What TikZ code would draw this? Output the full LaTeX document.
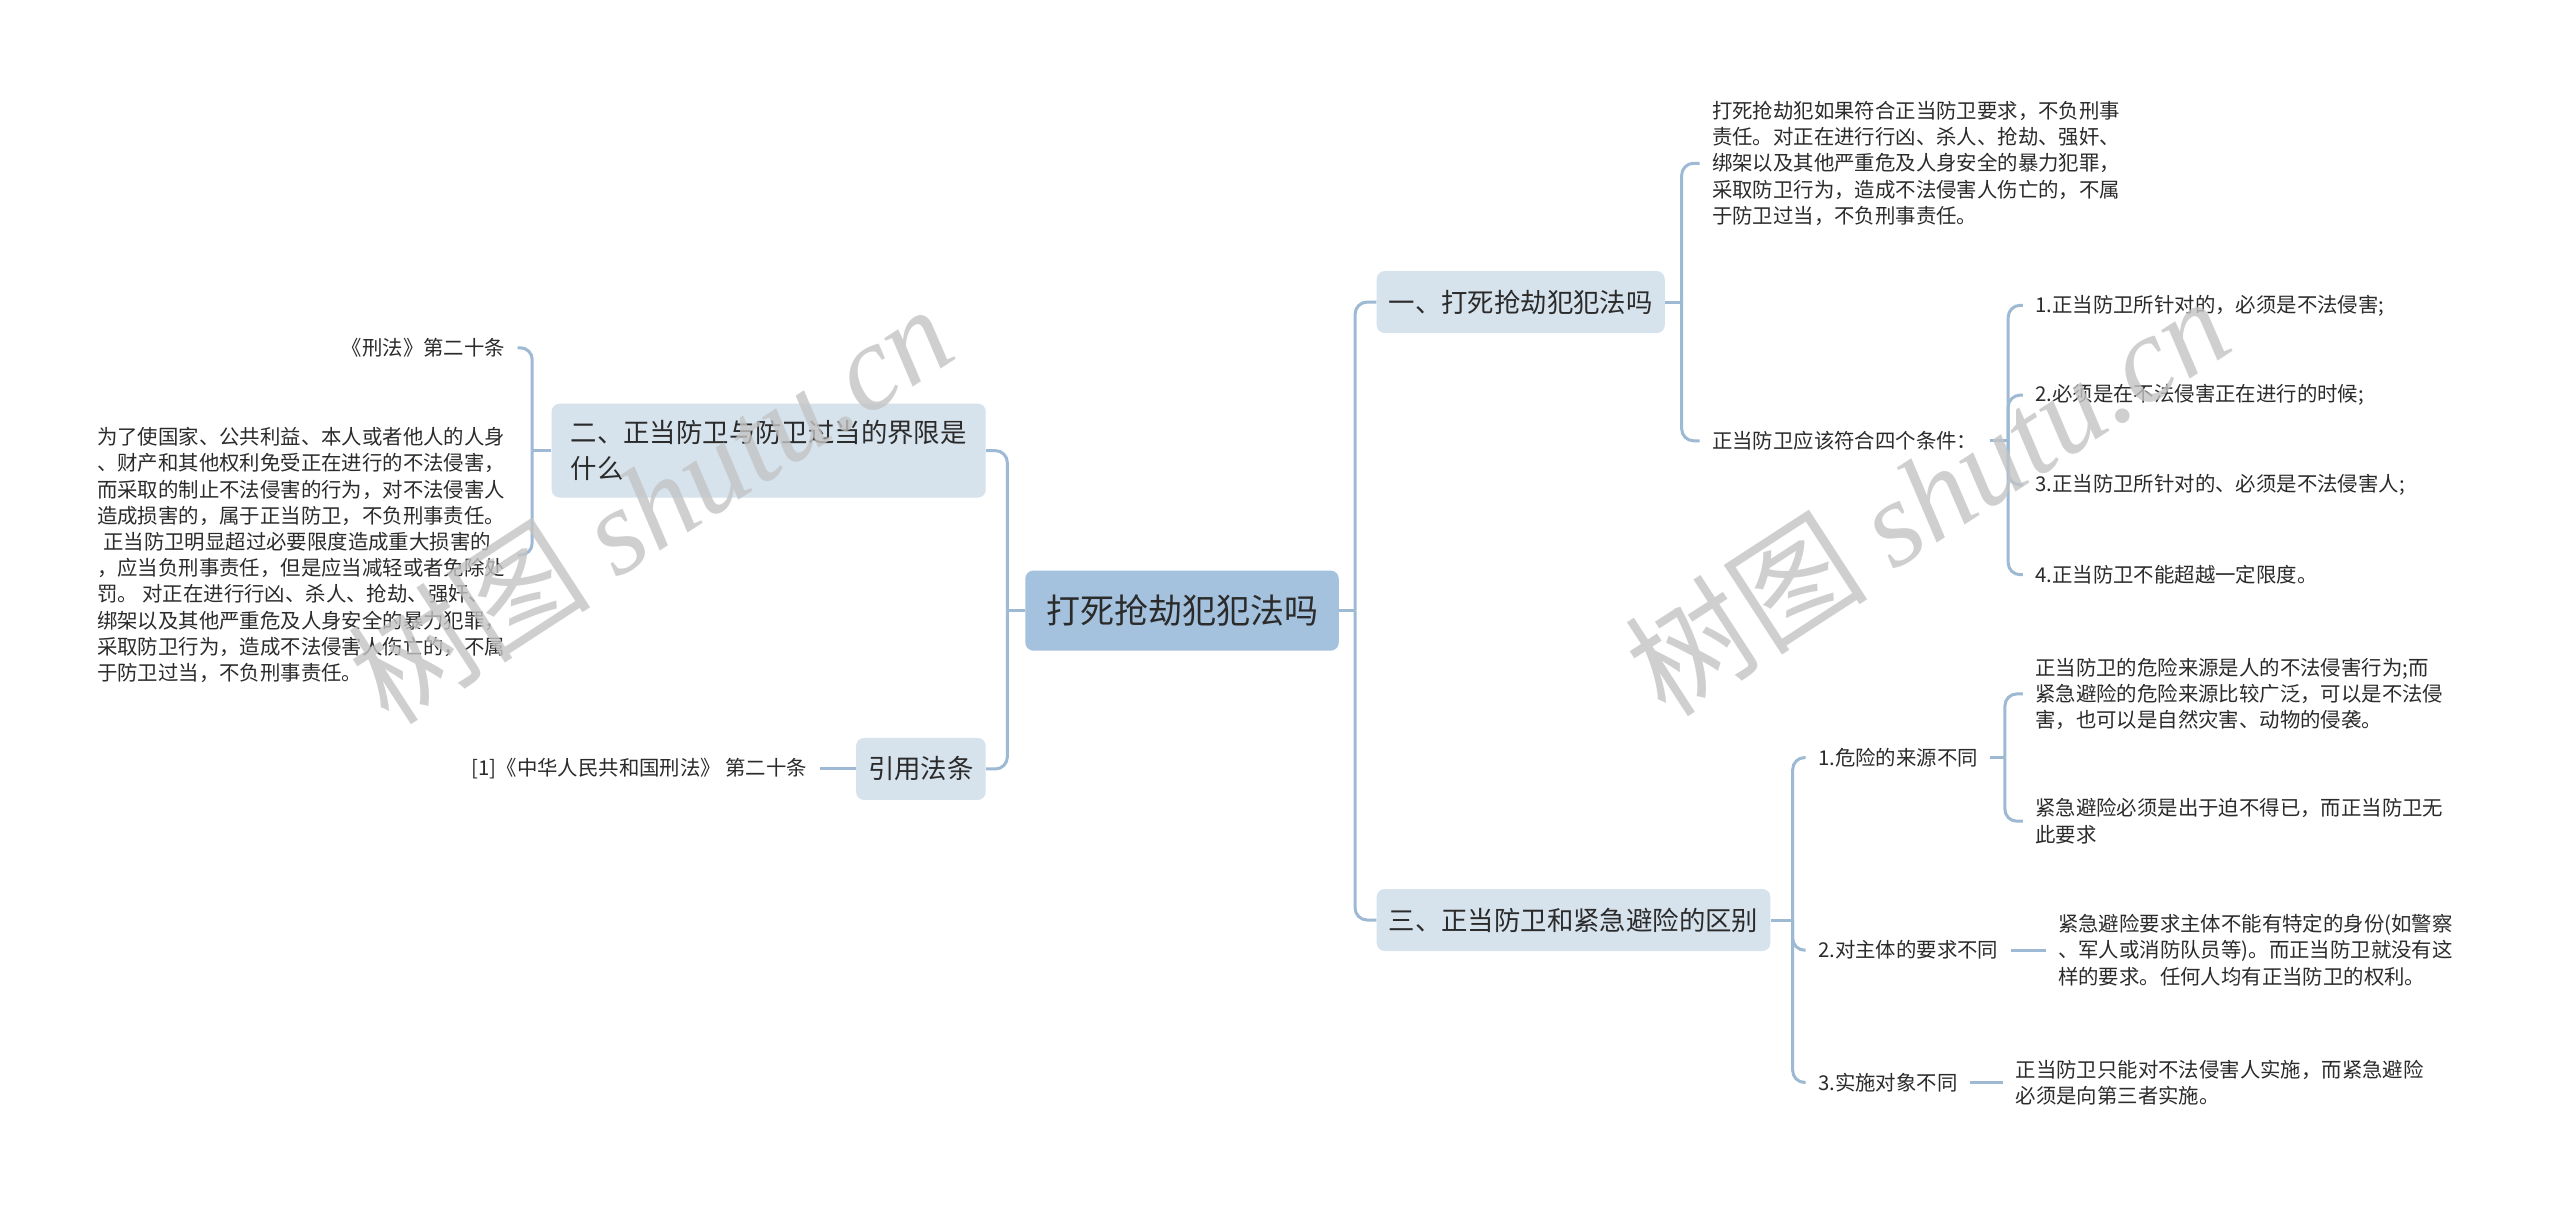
\documentclass[tikz,border=0pt]{standalone}
\usepackage{fontspec}
\setmainfont{Noto Sans CJK SC}
\newfontfamily\wmfont{Liberation Serif}
\usepackage{xcolor}
\usetikzlibrary{positioning}
\definecolor{rootblue}{HTML}{A4C1DD}
\definecolor{topicblue}{HTML}{D6E2EC}
\definecolor{linkblue}{HTML}{9DB9D3}
\definecolor{inkgray}{HTML}{2B2B2B}
\definecolor{markgray}{HTML}{C4C4C4}

\begin{document}
\begin{tikzpicture}[
    x=0.8163pt, y=-0.8163pt,
    root/.style={rectangle, rounded corners=4pt, fill=rootblue, minimum width=156.7pt, minimum height=40pt, font=\fontsize{17}{20}\selectfont, text=inkgray},
    topic/.style={rectangle, rounded corners=4pt, fill=topicblue, minimum height=31pt, inner xsep=6pt, align=left, font=\fontsize{13.2}{18}\selectfont, text=inkgray},
    leaf/.style={inner xsep=6pt, inner ysep=2pt, align=left, font=\fontsize{10.2}{13.1}\selectfont, text=inkgray},
    link/.style={draw=linkblue, line width=1.5pt},
    elbow/.style={link, rounded corners=6pt},
    wmark/.style={text=markgray, text opacity=0.8, font=\fontsize{61}{63}\selectfont, inner sep=0pt}
]
\fill[white] (0,0) rectangle (1568,738);
\useasboundingbox (0,0) rectangle (1568,738);

% Root
\node[root] (root) at (724,374) {打死抢劫犯犯法吗};

% Topics
\node[topic, anchor=west] (one) at (843,185) {一、打死抢劫犯犯法吗};
\node[topic, anchor=west] (three) at (843,563.5) {三、正当防卫和紧急避险的区别};
\node[topic, anchor=east, minimum width=217pt, minimum height=47pt] (two) at (604,276) {二、正当防卫与防卫过当的界限是\\什么};
\node[topic, anchor=east] (cite) at (604,471) {引用法条};

% Branch one
\node[leaf, anchor=west] (ans) at (1041,100) {打死抢劫犯如果符合正当防卫要求，不负刑事\\责任。对正在进行行凶、杀人、抢劫、强奸、\\绑架以及其他严重危及人身安全的暴力犯罪，\\采取防卫行为，造成不法侵害人伤亡的，不属\\于防卫过当，不负刑事责任。};
\node[leaf, anchor=west] (cond) at (1041,270) {正当防卫应该符合四个条件：};
\node[leaf, anchor=west] (c1) at (1239,187) {1.正当防卫所针对的，必须是不法侵害;};
\node[leaf, anchor=west] (c2) at (1239,242) {2.必须是在不法侵害正在进行的时候;};
\node[leaf, anchor=west] (c3) at (1239,297) {3.正当防卫所针对的、必须是不法侵害人;};
\node[leaf, anchor=west] (c4) at (1239,352) {4.正当防卫不能超越一定限度。};

% Branch three
\node[leaf, anchor=west] (d1) at (1106,464) {1.危险的来源不同};
\node[leaf, anchor=west] (d2) at (1106,582) {2.对主体的要求不同};
\node[leaf, anchor=west] (d3) at (1106,663) {3.实施对象不同};
\node[leaf, anchor=west] (e1) at (1239,425) {正当防卫的危险来源是人的不法侵害行为;而\\紧急避险的危险来源比较广泛，可以是不法侵\\害，也可以是自然灾害、动物的侵袭。};
\node[leaf, anchor=west] (e2) at (1239,503) {紧急避险必须是出于迫不得已，而正当防卫无\\此要求};
\node[leaf, anchor=west] (f) at (1253,582) {紧急避险要求主体不能有特定的身份(如警察\\、军人或消防队员等)。而正当防卫就没有这\\样的要求。任何人均有正当防卫的权利。};
\node[leaf, anchor=west] (g) at (1227,663) {正当防卫只能对不法侵害人实施，而紧急避险\\必须是向第三者实施。};

% Branch two
\node[leaf, anchor=east] (law) at (317,213) {《刑法》第二十条};
\node[leaf, anchor=east] (expl) at (317,340) {为了使国家、公共利益、本人或者他人的人身\\、财产和其他权利免受正在进行的不法侵害，\\而采取的制止不法侵害的行为，对不法侵害人\\造成损害的，属于正当防卫，不负刑事责任。\\\hspace*{0.3em}正当防卫明显超过必要限度造成重大损害的\\，应当负刑事责任，但是应当减轻或者免除处\\罚。 对正在进行行凶、杀人、抢劫、强奸、\\绑架以及其他严重危及人身安全的暴力犯罪，\\采取防卫行为，造成不法侵害人伤亡的，不属\\于防卫过当，不负刑事责任。};
\node[leaf, anchor=east] (ref) at (502,471) {[1]《中华人民共和国刑法》 第二十条};

% Connectors
\coordinate (rootR) at (830,374);
\coordinate (rootL) at (617,374);
\draw[link] (root.east) -- (rootR);
\draw[elbow] (rootR) |- (one.west);
\draw[elbow] (rootR) |- (three.west);
\draw[link] (root.west) -- (rootL);
\draw[elbow] (rootL) |- (two.east);
\draw[elbow] (rootL) |- (cite.east);

\coordinate (oneR) at (1030,185);
\draw[link] (one.east) -- (oneR);
\draw[elbow] (oneR) |- (ans.west);
\draw[elbow] (oneR) |- (cond.west);

\coordinate (condR) at (1230,270);
\draw[link] (cond.east) -- (condR);
\foreach \c in {c1,c2,c3,c4}
  \draw[elbow] (condR) |- (\c.west);

\coordinate (threeR) at (1098,563.5);
\draw[link] (three.east) -- (threeR);
\foreach \d in {d1,d2,d3}
  \draw[elbow] (threeR) |- (\d.west);

\coordinate (d1R) at (1228,464);
\draw[link] (d1.east) -- (d1R);
\draw[elbow] (d1R) |- (e1.west);
\draw[elbow] (d1R) |- (e2.west);
\draw[link] (d2.east) -- (f.west);
\draw[link] (d3.east) -- (g.west);

\coordinate (twoL) at (326,276);
\draw[link] (two.west) -- (twoL);
\draw[elbow] (twoL) |- (law.east);
\draw[elbow] (twoL) |- (expl.east);
\draw[link] (cite.west) -- (ref.east);

% Watermarks
\node[wmark, rotate=33] (wmL) at (398,308) {树图 {\wmfont\itshape shutu.cn}};
\node[wmark, rotate=33] (wmR) at (1180,303) {树图 {\wmfont\itshape shutu.cn}};

\end{tikzpicture}
\end{document}
